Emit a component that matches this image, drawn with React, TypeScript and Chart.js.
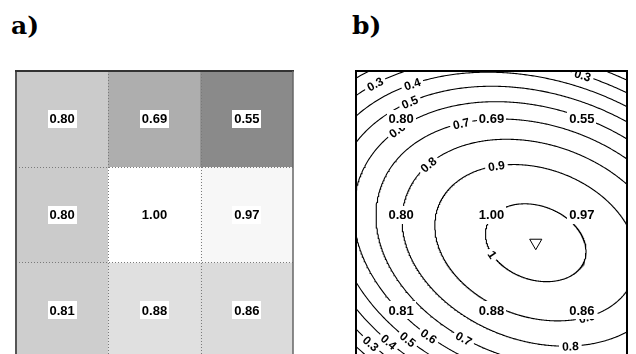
import React, { useEffect, useRef } from 'react';
import { Chart, registerables } from 'chart.js';

Chart.register(...registerables);

// ---- data ----
const COLUMNS = ['C1', 'C2', 'C3'];
const ROW_TOP = [0.8, 0.69, 0.55];
const ROW_MIDDLE = [0.8, 1.0, 0.97];
const ROW_BOTTOM = [0.81, 0.88, 0.86];
const ROWS = [ROW_TOP, ROW_MIDDLE, ROW_BOTTOM];

// contour levels of the response surface (panel b)
const CONTOUR_LEVELS = [0.2, 0.3, 0.4, 0.5, 0.6, 0.7, 0.8, 0.9, 1.0];
// fitted quadratic surface (peak and curvature)
const SURFACE_PEAK = 1.033;
const PEAK_X = 1.99;
const PEAK_Y = 1.795;
const CURV_XX = 0.1118;
const CURV_XY = -0.0668;
const CURV_YY = 0.2092;

// where the contour labels sit (approximate, snapped to the line)
const CONTOUR_LABELS = [
  { level: 0.3, x: 0.232, y: 0.177 },
  { level: 0.4, x: 0.631, y: 0.156 },
  { level: 0.5, x: 0.598, y: 0.354 },
  { level: 0.6, x: 0.454, y: 0.625 },
  { level: 0.7, x: 1.173, y: 0.5625 },
  { level: 0.8, x: 0.797, y: 0.979 },
  { level: 0.9, x: 1.561, y: 1.021 },
  { level: 1.0, x: 1.528, y: 1.906 },
  { level: 0.3, x: 2.502, y: 0.073 },
  { level: 0.9, x: 2.557, y: 2.594 },
  { level: 0.8, x: 2.369, y: 2.875 },
  { level: 0.3, x: 0.188, y: 2.833 },
  { level: 0.4, x: 0.399, y: 2.802 },
  { level: 0.5, x: 0.62, y: 2.75 },
  { level: 0.6, x: 0.841, y: 2.729 },
  { level: 0.7, x: 1.207, y: 2.781 },
];

const VALUE_FONT = 'bold 13px "Liberation Sans", Arial, sans-serif';
const LEVEL_FONT = 'bold 12px "Liberation Sans", Arial, sans-serif';

function grayFor(v: number) {
  const g = Math.round(Math.max(0, Math.min(255, 255 - 260 * (1 - v))));
  return `rgb(${g},${g},${g})`;
}

function contourPoints(level: number) {
  const r = SURFACE_PEAK - level;
  const pts: { x: number; y: number }[] = [];
  const n = 720;
  for (let k = 0; k <= n; k++) {
    const t = (k / n) * 2 * Math.PI;
    const c = Math.cos(t);
    const s = Math.sin(t);
    const q = CURV_XX * c * c + CURV_XY * c * s + CURV_YY * s * s;
    const d = Math.sqrt(r / q);
    pts.push({ x: PEAK_X + d * c, y: PEAK_Y + d * s });
  }
  return pts;
}

function fmtLevel(l: number) {
  return l === 1 ? '1' : l.toFixed(1);
}

function drawValueBox(ctx: CanvasRenderingContext2D, text: string, x: number, y: number) {
  ctx.save();
  ctx.font = VALUE_FONT;
  const w = ctx.measureText(text).width + 4;
  const h = 18;
  ctx.fillStyle = '#fff';
  ctx.fillRect(Math.round(x - w / 2), Math.round(y - h / 2), Math.round(w), h);
  ctx.fillStyle = '#000';
  ctx.textAlign = 'center';
  ctx.textBaseline = 'middle';
  ctx.fillText(text, x, y + 1);
  ctx.restore();
}

const heatPlugin = {
  id: 'heatDecor',
  afterDatasetsDraw(chart: any) {
    const ctx = chart.ctx as CanvasRenderingContext2D;
    const { left, right, top, bottom } = chart.chartArea;
    const xs = chart.scales.x;
    const ys = chart.scales.y;
    // dotted cell borders
    ctx.save();
    ctx.strokeStyle = '#7a7a7a';
    ctx.lineWidth = 1;
    ctx.setLineDash([1, 2]);
    for (let i = 0; i < COLUMNS.length - 1; i++) {
      const px = Math.round((xs.getPixelForValue(i) + xs.getPixelForValue(i + 1)) / 2) + 0.5;
      ctx.beginPath();
      ctx.moveTo(px, top);
      ctx.lineTo(px, bottom);
      ctx.stroke();
    }
    for (let r = 1; r < ROWS.length; r++) {
      const py = Math.round(ys.getPixelForValue(r)) + 0.5;
      ctx.beginPath();
      ctx.moveTo(left, py);
      ctx.lineTo(right, py);
      ctx.stroke();
    }
    ctx.restore();
    // value labels
    chart.data.datasets.forEach((ds: any, di: number) => {
      const meta = chart.getDatasetMeta(di);
      meta.data.forEach((el: any, i: number) => {
        const cy = (el.y + el.base) / 2;
        drawValueBox(ctx, ds.values[i].toFixed(2), el.x, cy);
      });
    });
    // frame
    ctx.save();
    ctx.lineWidth = 2;
    ctx.strokeStyle = '#555';
    ctx.beginPath();
    ctx.moveTo(left, bottom + 5);
    ctx.lineTo(left, top);
    ctx.stroke();
    ctx.strokeStyle = '#333';
    ctx.beginPath();
    ctx.moveTo(left - 1, top);
    ctx.lineTo(right + 1, top);
    ctx.stroke();
    ctx.lineWidth = 1.5;
    ctx.strokeStyle = '#666';
    ctx.beginPath();
    ctx.moveTo(right, top);
    ctx.lineTo(right, bottom + 5);
    ctx.stroke();
    ctx.restore();
  },
};

const contourPlugin = {
  id: 'contourDecor',
  afterDatasetsDraw(chart: any) {
    const ctx = chart.ctx as CanvasRenderingContext2D;
    const { left, right, top, bottom } = chart.chartArea;
    const xs = chart.scales.x;
    const ys = chart.scales.y;
    ctx.save();
    ctx.beginPath();
    ctx.rect(left, top, right - left, bottom - top);
    ctx.clip();
    // contour labels
    CONTOUR_LABELS.forEach((lab) => {
      const pts = contourPoints(lab.level).map((p) => ({
        x: xs.getPixelForValue(p.x),
        y: ys.getPixelForValue(p.y),
      }));
      const tx = xs.getPixelForValue(lab.x);
      const ty = ys.getPixelForValue(lab.y);
      let best = 0;
      let bd = Infinity;
      pts.forEach((p, k) => {
        const d = (p.x - tx) ** 2 + (p.y - ty) ** 2;
        if (d < bd) {
          bd = d;
          best = k;
        }
      });
      const a = pts[Math.max(0, best - 3)];
      const b = pts[Math.min(pts.length - 1, best + 3)];
      let ang = Math.atan2(b.y - a.y, b.x - a.x);
      if (ang > Math.PI / 2) ang -= Math.PI;
      if (ang < -Math.PI / 2) ang += Math.PI;
      const p = pts[best];
      const text = fmtLevel(lab.level);
      ctx.save();
      ctx.translate(p.x, p.y);
      ctx.rotate(ang);
      ctx.font = LEVEL_FONT;
      const w = ctx.measureText(text).width + 6;
      ctx.fillStyle = '#fff';
      ctx.fillRect(-w / 2, -6, w, 12);
      ctx.fillStyle = '#000';
      ctx.textAlign = 'center';
      ctx.textBaseline = 'middle';
      ctx.fillText(text, 0, 1);
      ctx.restore();
    });
    // cell values
    ROWS.forEach((row, r) => {
      row.forEach((v, i) => {
        drawValueBox(ctx, v.toFixed(2), xs.getPixelForValue(i + 0.5), ys.getPixelForValue(r + 0.5));
      });
    });
    ctx.restore();
    // frame
    ctx.save();
    ctx.lineWidth = 2;
    ctx.strokeStyle = '#000';
    ctx.beginPath();
    ctx.moveTo(left, bottom + 5);
    ctx.lineTo(left, top);
    ctx.lineTo(right, top);
    ctx.lineTo(right, bottom + 5);
    ctx.stroke();
    ctx.restore();
  },
};

export default function App() {
  const refA = useRef<HTMLCanvasElement>(null);
  const refB = useRef<HTMLCanvasElement>(null);

  useEffect(() => {
    const chartA = new Chart(refA.current as HTMLCanvasElement, {
      type: 'bar',
      data: {
        labels: COLUMNS,
        datasets: ROWS.map((row) => ({
          data: row.map(() => 1),
          values: row,
          backgroundColor: row.map(grayFor),
          borderWidth: 0,
          categoryPercentage: 1,
          barPercentage: 1,
          stack: 'cells',
        })) as any,
      },
      options: {
        responsive: false,
        animation: false,
        devicePixelRatio: 1,
        layout: { padding: { left: 16, top: 71, right: 25, bottom: 14 } },
        plugins: { legend: { display: false }, tooltip: { enabled: false } },
        scales: {
          x: { display: false, stacked: true },
          y: { display: false, stacked: true, min: 0, max: 3, reverse: true },
        },
      },
      plugins: [heatPlugin],
    });

    const contourSets: any[] = CONTOUR_LEVELS.map((lvl) => ({
      data: contourPoints(lvl),
      showLine: true,
      pointRadius: 0,
      borderColor: '#000',
      borderWidth: 1.1,
      tension: 0,
      fill: false,
    }));
    contourSets.push({
      data: [{ x: PEAK_X, y: PEAK_Y }],
      showLine: false,
      pointStyle: 'triangle',
      rotation: 180,
      pointRadius: 7,
      borderColor: '#000',
      backgroundColor: '#fff',
      borderWidth: 1,
    });

    const chartB = new Chart(refB.current as HTMLCanvasElement, {
      type: 'scatter',
      data: { datasets: contourSets },
      options: {
        responsive: false,
        animation: false,
        devicePixelRatio: 1,
        layout: { padding: { left: 38, top: 71, right: 9, bottom: 14 } },
        plugins: { legend: { display: false }, tooltip: { enabled: false } },
        scales: {
          x: { type: 'linear', display: false, min: 0, max: 3 },
          y: { type: 'linear', display: false, min: 0, max: 3, reverse: true },
        },
      },
      plugins: [contourPlugin],
    });

    return () => {
      chartA.destroy();
      chartB.destroy();
    };
  }, []);

  const titleStyle: React.CSSProperties = {
    position: 'absolute',
    top: 13,
    fontFamily: '"DejaVu Serif", serif',
    fontWeight: 'bold',
    fontSize: 25,
    lineHeight: '25px',
    color: '#000',
  };

  return (
    <div
      style={{
        position: 'fixed',
        left: 0,
        top: 0,
        width: 636,
        height: 354,
        overflow: 'hidden',
        background: '#fff',
      }}
    >
      <div style={{ ...titleStyle, left: 11 }}>a)</div>
      <div style={{ ...titleStyle, left: 352 }}>b)</div>
      <canvas
        ref={refA}
        width={318}
        height={372}
        style={{ position: 'absolute', left: 0, top: 0, width: 318, height: 372 }}
      />
      <canvas
        ref={refB}
        width={318}
        height={372}
        style={{ position: 'absolute', left: 318, top: 0, width: 318, height: 372 }}
      />
    </div>
  );
}
